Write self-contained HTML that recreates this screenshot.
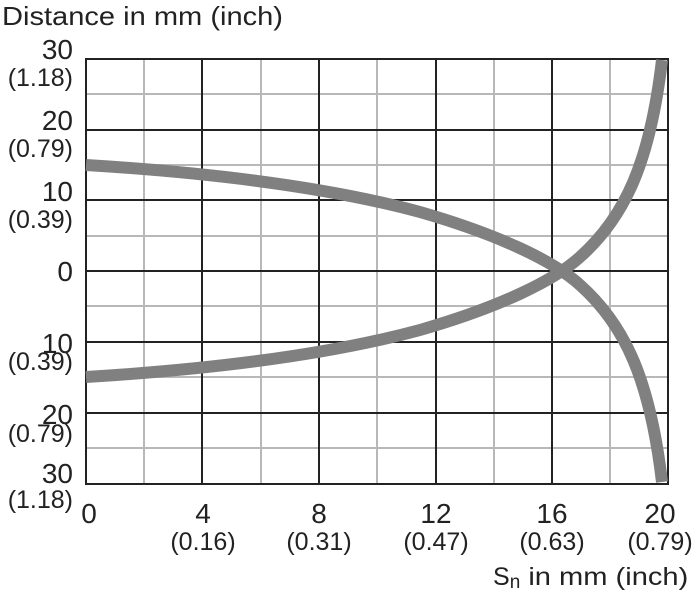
<!DOCTYPE html>
<html><head><style>
body{margin:0;background:#fff;width:698px;height:600px;overflow:hidden}
text{font-family:"Liberation Sans",sans-serif;fill:#222}
</style></head><body>
<svg width="698" height="600" viewBox="0 0 698 600">
<g stroke="#b8b8b8" stroke-width="2">
<line x1="144" y1="59" x2="144" y2="484"/><line x1="261" y1="59" x2="261" y2="484"/><line x1="377" y1="59" x2="377" y2="484"/><line x1="494" y1="59" x2="494" y2="484"/><line x1="610" y1="59" x2="610" y2="484"/>
<line x1="86" y1="94" x2="668" y2="94"/><line x1="86" y1="165" x2="668" y2="165"/><line x1="86" y1="236" x2="668" y2="236"/><line x1="86" y1="306" x2="668" y2="306"/><line x1="86" y1="377" x2="668" y2="377"/><line x1="86" y1="448" x2="668" y2="448"/>
</g>
<g stroke="#222" stroke-width="2">
<line x1="202" y1="59" x2="202" y2="484"/><line x1="319" y1="59" x2="319" y2="484"/><line x1="436" y1="59" x2="436" y2="484"/><line x1="552" y1="59" x2="552" y2="484"/>
<line x1="86" y1="130" x2="668" y2="130"/><line x1="86" y1="200" x2="668" y2="200"/><line x1="86" y1="271" x2="668" y2="271"/><line x1="86" y1="342" x2="668" y2="342"/><line x1="86" y1="413" x2="668" y2="413"/>
<rect x="86" y="59" width="582" height="425" fill="none"/>
</g>
<g fill="none" stroke="#808080" stroke-width="12" stroke-linecap="butt" stroke-linejoin="round">
<path d="M86,165 C200,172 320,185 420,212 C500,235 555,262 580,285 C625,325 650,380 662,482"/>
<path d="M86,377 C200,370 320,357 420,330 C500,307 555,280 580,257 C625,217 650,162 662,60"/>
</g>
<text x="2" y="25" font-size="26" textLength="281" lengthAdjust="spacingAndGlyphs">Distance in mm (inch)</text>
<g font-size="28" text-anchor="end">
<text x="73" y="59">30</text><text x="73" y="130">20</text><text x="73" y="201">10</text><text x="73" y="281">0</text>
<text x="73" y="353">10</text><text x="73" y="424">20</text><text x="73" y="483">30</text>
</g>
<g font-size="25" text-anchor="end">
<text x="73" y="86">(1.18)</text><text x="73" y="157">(0.79)</text><text x="73" y="228">(0.39)</text>
<text x="73" y="370">(0.39)</text><text x="73" y="442">(0.79)</text><text x="73" y="508">(1.18)</text>
</g>
<g font-size="28" text-anchor="middle">
<text x="89" y="523">0</text><text x="203" y="523">4</text><text x="319" y="523">8</text>
<text x="436" y="523">12</text><text x="552" y="523">16</text><text x="660" y="523">20</text>
</g>
<g font-size="25" text-anchor="middle">
<text x="203" y="550">(0.16)</text><text x="319" y="550">(0.31)</text><text x="436" y="550">(0.47)</text>
<text x="552" y="550">(0.63)</text><text x="660" y="550">(0.79)</text>
</g>
<text x="493" y="585" font-size="25">S<tspan font-size="19" dy="3">n</tspan><tspan dy="-3" textLength="168" lengthAdjust="spacingAndGlyphs"> in mm (inch)</tspan></text>
</svg>
</body></html>
